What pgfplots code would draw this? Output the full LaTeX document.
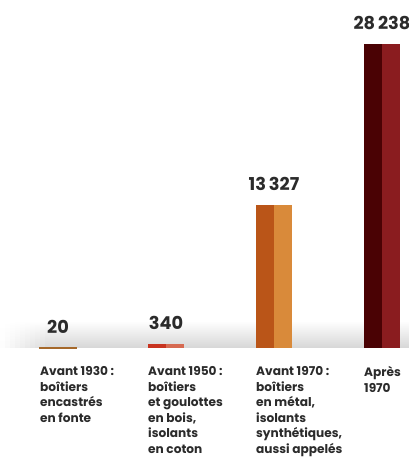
\documentclass[border=0pt]{standalone}
\usepackage{pgfplots}
\pgfplotsset{compat=1.18}
\usepackage{fontspec}
\setmainfont{Poppins}
\definecolor{txt}{HTML}{2B2B2B}
\definecolor{cA}{HTML}{A5682A}
\definecolor{cBl}{HTML}{C8331F}
\definecolor{cBr}{HTML}{D66A51}
\definecolor{cCl}{HTML}{BA5518}
\definecolor{cCr}{HTML}{D98A3A}
\definecolor{cDl}{HTML}{4A0204}
\definecolor{cDr}{HTML}{8A1C1F}
\definecolor{shad}{HTML}{D6D6D6}
\begin{document}
\begin{tikzpicture}
\useasboundingbox (0,0) rectangle (409bp,457bp);
\clip (0,0) rectangle (409bp,457bp);
\fill[white] (0,0) rectangle (409bp,457bp);
\foreach \i in {0,...,9} {
  \pgfmathsetmacro{\k}{(\i+0.5)*10}
  \fill[top color=white, bottom color=shad!\k!white] (\i*5bp,109bp) rectangle (\i*5bp+5.3bp,136bp);
}
\fill[top color=white, bottom color=shad] (50bp,109bp) rectangle (409bp,136bp);
\begin{axis}[
  at={(4bp,109bp)}, anchor=south west,
  scale only axis, width=399.6bp, height=304bp,
  xmin=-0.5, xmax=3.2, ymin=0, ymax=28238,
  clip=false,
  axis line style={draw=none},
  major tick length=0pt,
  ytick=\empty,
  xtick={0,1,2,3},
  xticklabels={{Avant 1930 :\\boîtiers\\encastrés\\en fonte},
               {Avant 1950 :\\boîtiers\\et goulottes\\en bois,\\isolants\\en coton},
               {Avant 1970 :\\boîtiers\\en métal,\\isolants\\synthétiques,\\aussi appelés},
               {Après\\1970}},
  xticklabel style={anchor=north west, align=left, inner sep=0pt, xshift=-18bp, yshift=-18.5bp,
     font=\fontsize{12.2}{15.6}\selectfont\bfseries, text=txt},
  ybar, bar width=18bp,
  /pgf/number format/assume math mode=true,
]
\addplot[fill=cA, draw=cA, line width=1.5bp, bar shift=-9bp] coordinates {(0,20)};
\addplot[fill=cA, draw=cA, line width=1.5bp, bar shift=9bp] coordinates {(0,20)};
\addplot[fill=cBl, draw=none, bar shift=-9bp] coordinates {(1,340)};
\addplot[fill=cBr, draw=none, bar shift=9bp] coordinates {(1,340)};
\addplot[fill=cCl, draw=none, bar shift=-9bp] coordinates {(2,13327)};
\addplot[fill=cCr, draw=none, bar shift=9bp] coordinates {(2,13327)};
\addplot[fill=cDl, draw=none, bar shift=-9bp] coordinates {(3,28238)};
\addplot[fill=cDr, draw=none, bar shift=9bp] coordinates {(3,28238)};
\addplot[draw=none, fill=none, bar shift=0pt,
  nodes near coords={\pgfmathprintnumber[fixed, precision=0, 1000 sep={\,}, assume math mode=true]{\pgfplotspointmeta}},
  nodes near coords style={anchor=base, yshift=14.5bp, inner sep=0pt,
     font=\fontsize{17.8}{20}\selectfont\bfseries, text=txt}]
  coordinates {(0,20) (1,340) (2,13327) (3,28238)};
\end{axis}
\end{tikzpicture}
\end{document}
